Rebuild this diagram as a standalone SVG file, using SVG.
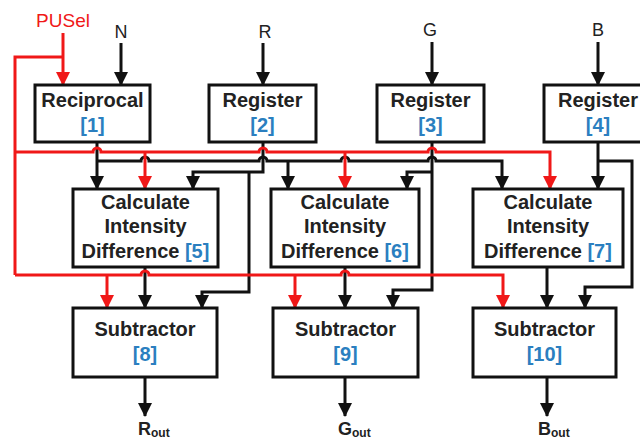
<svg xmlns="http://www.w3.org/2000/svg" width="640" height="442" viewBox="0 0 640 442">
<style>
.box{fill:#fff;stroke:#111;stroke-width:3}
.t{font-family:"Liberation Sans",Arial,sans-serif;font-weight:bold;font-size:20px;fill:#222;text-anchor:middle}
.n{fill:#2b7fc0}
.lbl{font-family:"Liberation Sans",Arial,sans-serif;font-size:18px;fill:#222;text-anchor:middle}
.k{fill:none;stroke:#111;stroke-width:3}
.r{fill:none;stroke:#f01818;stroke-width:3}
.ka{marker-end:url(#ak)}
.ra{marker-end:url(#ar)}
</style>
<defs>
<marker id="ak" markerUnits="userSpaceOnUse" markerWidth="14" markerHeight="14" refX="13" refY="7" orient="auto"><path d="M0,0 L14,7 L0,14 z" fill="#111"/></marker>
<marker id="ar" markerUnits="userSpaceOnUse" markerWidth="14" markerHeight="14" refX="13" refY="7" orient="auto"><path d="M0,0 L14,7 L0,14 z" fill="#f01818"/></marker>
</defs>
<rect width="640" height="442" fill="#fff"/>

<g id="connectors">
<path class="k ka" d="M121,43 V85"/>
<path class="k ka" d="M263,43 V85"/>
<path class="k ka" d="M432,42 V85"/>
<path class="k ka" d="M598,42 V85"/>
<path class="k ka" d="M97,142 V189"/>
<path class="k ka" d="M97,161 H141 a4,4 0 0 1 8,0 H259 a4,4 0 0 1 8,0 H341 a4,4 0 0 1 8,0 H428 a4,4 0 0 1 8,0 H502 V189"/>
<path class="k ka" d="M288,161 V189"/>
<path class="k ka" d="M263,142 V172 H193 V189"/>
<path class="k ka" d="M249,172 V292 H202 V308"/>
<path class="k ka" d="M432,142 V290 H393 V308"/>
<path class="k ka" d="M432,172 H407 V189"/>
<path class="k ka" d="M598,142 V189"/>
<path class="k ka" d="M598,161 H632 V287 H585 V308"/>
<path class="k ka" d="M145,267 V308"/>
<path class="k ka" d="M345,267 V308"/>
<path class="k ka" d="M547,267 V308"/>
<path class="k ka" d="M145,377 V416"/>
<path class="k ka" d="M345,377 V416"/>
<path class="k ka" d="M547,377 V416"/>
<path class="r ra" d="M63,33 V85"/>
<path class="r" d="M63,57 H15 V275"/>
<path class="r ra" d="M15,152 H93 a4,4 0 0 1 8,0 H259 a4,4 0 0 1 8,0 H428 a4,4 0 0 1 8,0 H550 V189"/>
<path class="r ra" d="M145,152 V189"/>
<path class="r ra" d="M345,152 V189"/>
<path class="r ra" d="M15,275 H141 a4,4 0 0 1 8,0 H341 a4,4 0 0 1 8,0 H503 V308"/>
<path class="r ra" d="M107,275 V308"/>
<path class="r ra" d="M295,275 V308"/>
</g>

<g id="labels">
<text x="63" y="27" class="lbl" style="fill:#f01818;font-size:19px">PUSel</text>
<text x="121" y="38" class="lbl">N</text>
<text x="265" y="38" class="lbl">R</text>
<text x="430" y="36" class="lbl">G</text>
<text x="598" y="36" class="lbl">B</text>
<text x="138" y="435" class="t" style="text-anchor:start;font-size:18px">R<tspan font-size="12" dy="2">out</tspan></text>
<text x="338" y="435" class="t" style="text-anchor:start;font-size:18px">G<tspan font-size="12" dy="2">out</tspan></text>
<text x="538" y="435" class="t" style="text-anchor:start;font-size:18px">B<tspan font-size="12" dy="2">out</tspan></text>
</g>

<g id="n1"><rect class="box" x="35" y="85" width="115" height="57"/><text class="t" x="92.5" y="107">Reciprocal</text><text class="t n" x="92.5" y="132">[1]</text></g>
<g id="n2"><rect class="box" x="209" y="85" width="107" height="57"/><text class="t" x="262.5" y="107">Register</text><text class="t n" x="262.5" y="132">[2]</text></g>
<g id="n3"><rect class="box" x="377" y="85" width="107" height="57"/><text class="t" x="430.5" y="107">Register</text><text class="t n" x="430.5" y="132">[3]</text></g>
<g id="n4"><rect class="box" x="544" y="85" width="110" height="57"/><text class="t" x="598" y="107">Register</text><text class="t n" x="598" y="132">[4]</text></g>

<g id="n5"><rect class="box" x="73" y="189" width="145" height="78"/><text class="t" x="145.5" y="209">Calculate</text><text class="t" x="145.5" y="233">Intensity</text><text class="t" x="145.5" y="258">Difference <tspan class="n">[5]</tspan></text></g>
<g id="n6"><rect class="box" x="271" y="189" width="148" height="78"/><text class="t" x="345" y="209">Calculate</text><text class="t" x="345" y="233">Intensity</text><text class="t" x="345" y="258">Difference <tspan class="n">[6]</tspan></text></g>
<g id="n7"><rect class="box" x="473" y="189" width="150" height="78"/><text class="t" x="548" y="209">Calculate</text><text class="t" x="548" y="233">Intensity</text><text class="t" x="548" y="258">Difference <tspan class="n">[7]</tspan></text></g>

<g id="n8"><rect class="box" x="73" y="308" width="144" height="69"/><text class="t" x="145" y="336">Subtractor</text><text class="t n" x="145" y="361">[8]</text></g>
<g id="n9"><rect class="box" x="273" y="308" width="145" height="69"/><text class="t" x="345.5" y="336">Subtractor</text><text class="t n" x="345.5" y="361">[9]</text></g>
<g id="n10"><rect class="box" x="473" y="308" width="143" height="69"/><text class="t" x="544.5" y="336">Subtractor</text><text class="t n" x="544.5" y="361">[10]</text></g>
</svg>
